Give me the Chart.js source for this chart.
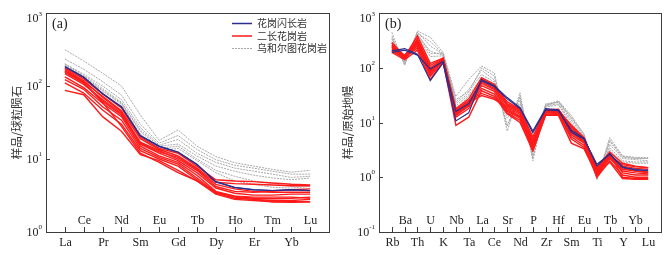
<!DOCTYPE html>
<html>
<head>
<meta charset="utf-8">
<script src="https://cdn.jsdelivr.net/npm/chart.js@4.4.0/dist/chart.umd.min.js"></script>
<style>
  body { margin: 0; background: #fff; width: 672px; height: 255px; overflow: hidden; position: relative; }
  canvas { position: absolute; top: 0; }
  #chartA { left: 0; }
  #chartB { left: 336px; }
</style>
</head>
<body>
<canvas id="chartA" width="336" height="255"></canvas>
<canvas id="chartB" width="336" height="255"></canvas>
<script>
// --- DATA (a): REE / chondrite ---
const reeLabels = ['La', 'Ce', 'Pr', 'Nd', 'Sm', 'Eu', 'Gd', 'Tb', 'Dy', 'Ho', 'Er', 'Tm', 'Yb', 'Lu'];
const reeTicks = [1, 10, 100, 1000];
const reeBlue = [
  [185, 133, 78, 52, 21, 15, 12.5, 8.5, 4.9, 4.1, 3.8, 3.7, 3.8, 3.7],
  [183, 131, 79, 51.5, 20.8, 14.8, 12.4, 8.4, 4.85, 4.05, 3.78, 3.7, 3.78, 3.68]
];
const reeRed = [
  [177, 125, 78, 50, 20, 14, 12, 8, 5.2, 5.0, 4.9, 4.7, 4.5, 4.4],
  [163, 115, 72, 46, 19, 13.5, 11, 7.5, 4.8, 4.6, 4.5, 4.4, 4.3, 4.3],
  [148, 105, 65, 42, 17, 13, 10, 7, 4.2, 3.6, 3.5, 3.6, 3.8, 3.9],
  [170, 118, 70, 44, 16, 12, 9.5, 6.5, 4.0, 3.4, 3.2, 3.2, 3.3, 3.3],
  [133, 95, 58, 38, 15, 11, 9, 6, 3.6, 3.1, 3.0, 3.0, 3.0, 2.9],
  [122, 90, 52, 34, 14, 10.5, 8.5, 5.5, 3.5, 3.0, 2.8, 2.7, 2.7, 2.8],
  [110, 80, 47, 30, 13, 10, 8, 5.2, 3.4, 2.9, 2.8, 2.6, 2.6, 2.6],
  [87, 76, 38, 24, 11.5, 9.5, 7, 5, 3.3, 2.8, 2.7, 2.6, 2.55, 2.6],
  [155, 110, 62, 40, 16.5, 12.5, 10.5, 7.2, 4.5, 3.9, 3.6, 3.5, 3.5, 3.5],
  [160, 112, 60, 28, 12, 9, 6.5, 5.0, 3.5, 3.1, 2.9, 2.85, 2.9, 3.0]
];
const reeGray = [
  [314, 220, 150, 100, 40, 18, 25, 15, 10.8, 8.9, 8.0, 7.2, 6.6, 7.0],
  [234, 170, 115, 75, 30, 16.5, 21, 13.5, 9.8, 8.2, 7.5, 6.8, 6.2, 6.2],
  [202, 145, 100, 65, 27, 15.5, 18.5, 12, 9.0, 7.5, 6.8, 6.2, 5.6, 5.8],
  [200, 140, 92, 60, 25, 15, 16, 11, 8.0, 6.8, 6.0, 5.5, 5.2, 5.5],
  [195, 135, 88, 58, 24, 14, 15, 10, 7.0, 5.8, 5.0, 4.6, 4.2, 4.3],
  [190, 132, 85, 56, 22, 13, 14, 9.5, 6.5, 5.0, 4.5, 4.1, 4.0, 4.2]
];

// --- DATA (b): spider / primitive mantle ---
const spiderLabels = ['Rb', 'Ba', 'Th', 'U', 'K', 'Nb', 'Ta', 'La', 'Ce', 'Sr', 'Nd', 'P', 'Zr', 'Hf', 'Sm', 'Eu', 'Ti', 'Tb', 'Y', 'Yb', 'Lu'];
const spiderTicks = [0.1, 1, 10, 100, 1000];
const spiderBlue = [
  [203, 224, 177, 58, 123, 10.7, 15, 61, 47, 28.5, 18.7, 7.0, 18, 17, 6.6, 4.95, 1.73, 2.63, 1.5, 1.4, 1.3],
  [190, 210, 170, 95, 130, 16, 22, 58, 45, 27, 18, 6.5, 17, 16.5, 7.2, 5.1, 1.6, 2.7, 1.55, 1.35, 1.35]
];
const spiderRed = [
  [290, 160, 380, 120, 150, 18, 27, 66, 50, 22, 17, 4.5, 17, 17.5, 8.5, 5.2, 1.5, 2.9, 1.8, 1.6, 1.5],
  [260, 150, 340, 100, 145, 16, 24, 58, 45, 20, 15, 4.0, 16, 16, 7.5, 4.8, 1.3, 2.6, 1.6, 1.45, 1.4],
  [230, 170, 300, 90, 140, 15, 22, 52, 40, 18, 13, 3.6, 15, 15.5, 7, 4.5, 1.2, 2.5, 1.5, 1.3, 1.25],
  [210, 145, 260, 80, 135, 14, 20, 47, 37, 16, 12, 3.3, 15.5, 15, 6, 4.2, 1.1, 2.2, 1.3, 1.2, 1.15],
  [200, 155, 230, 70, 130, 12.5, 18, 42, 33, 15, 11, 3.0, 14, 14, 5.5, 3.8, 1.0, 2.0, 1.1, 1.0, 1.0],
  [190, 140, 210, 61, 128, 8.9, 12.5, 38, 30, 14.5, 10, 3.1, 13.5, 13.5, 4.2, 3.3, 1.1, 1.9, 0.95, 0.92, 0.92],
  [280, 165, 320, 110, 150, 17, 25, 34, 28, 17, 12.5, 3.8, 16, 16.5, 6.5, 4.4, 1.25, 2.7, 1.0, 0.95, 0.95],
  [250, 150, 280, 95, 140, 15.5, 23, 31, 26.5, 19, 14, 4.2, 17, 17, 8, 5, 1.4, 2.8, 1.2, 1.1, 1.1],
  [220, 160, 250, 85, 138, 13.5, 20, 55, 42, 21, 16, 5.0, 15, 14.5, 5, 3.5, 1.15, 2.3, 1.4, 1.3, 1.2],
  [240, 150, 290, 75, 145, 14.5, 21, 62, 48, 24, 17.5, 5.5, 17.5, 16, 9, 5.3, 1.35, 2.4, 1.7, 1.55, 1.5]
];
const spiderGray = [
  [445, 110, 470, 360, 190, 30, 61, 108, 80, 7.0, 35, 2.0, 21, 25, 13.5, 6, 0.9, 5.3, 2.45, 2.3, 2.3],
  [333, 130, 430, 300, 180, 23.5, 40, 90, 60, 8.5, 30, 2.5, 20, 24, 12, 5.8, 0.95, 4.5, 2.3, 2.2, 2.2],
  [380, 120, 450, 250, 175, 26, 37, 75, 55, 12, 25, 3.0, 22, 23.5, 11, 5.5, 1.0, 4.0, 2.2, 2.1, 2.0],
  [300, 140, 400, 200, 170, 20, 32, 65, 48, 16, 22, 3.5, 20, 22, 10, 5.0, 1.05, 3.5, 2.0, 1.9, 1.9],
  [350, 115, 420, 180, 185, 22, 35, 100, 70, 9, 28, 2.2, 21, 24, 12.5, 6.2, 0.92, 4.8, 2.4, 2.25, 2.2],
  [280, 125, 390, 160, 165, 18, 30, 58, 45, 20, 20, 4.0, 19, 21, 9, 4.8, 1.1, 3.2, 1.9, 1.8, 1.8]
];

const legendNames = ['花岗闪长岩', '二长花岗岩', '乌和尔图花岗岩'];

// --- STYLE ---
const BLUE = '#2a2e8c';
const RED = '#ff1a1a';
const GRAY = '#a8a8a8';
const LATIN = '"Liberation Serif", "Times New Roman", serif';
const CJK = '"Noto Sans CJK SC", sans-serif';

function toPoints(row) {
  return row.map((v, i) => ({ x: i, y: v }));
}

// blue first so it ends up on top (chart.js draws index 0 last)
function buildDatasets(blue, red, gray) {
  const sets = [];
  blue.forEach(r => sets.push({ data: toPoints(r), borderColor: BLUE, borderWidth: 1.2 }));
  red.forEach(r => sets.push({ data: toPoints(r), borderColor: RED, borderWidth: 1.4 }));
  gray.forEach(r => sets.push({ data: toPoints(r), borderColor: GRAY, borderWidth: 1, borderDash: [2, 1] }));
  sets.forEach(s => { s.pointRadius = 0; s.tension = 0; s.fill = false; });
  return sets;
}

// draws box, ticks, tick labels, titles and legend using the chart's scales
const frame = {
  id: 'frame',
  afterDatasetsDraw(chart, args, opts) {
    const ctx = chart.ctx;
    const a = chart.chartArea;
    const xs = chart.scales.x, ys = chart.scales.y;
    ctx.save();
    ctx.strokeStyle = '#3c3c3c';
    ctx.lineWidth = 1;
    ctx.strokeRect(Math.round(a.left) + 0.5, Math.round(a.top) + 0.5, Math.round(a.right - a.left), Math.round(a.bottom - a.top));

    // x ticks (inward) + alternating labels
    ctx.fillStyle = '#222';
    ctx.font = '12px ' + LATIN;
    ctx.textAlign = 'center';
    ctx.textBaseline = 'middle';
    opts.labels.forEach((lab, i) => {
      const px = Math.round(xs.getPixelForValue(i)) + 0.5;
      ctx.beginPath();
      ctx.moveTo(px, a.bottom);
      ctx.lineTo(px, a.bottom - 5);
      ctx.stroke();
      ctx.fillText(lab, px, i % 2 === 0 ? a.bottom + 11 : a.bottom - 11);
    });

    // y ticks (inward) + 10^n labels
    opts.ticks.forEach(t => {
      const py = Math.round(ys.getPixelForValue(t)) + 0.5;
      ctx.beginPath();
      ctx.moveTo(a.left, py);
      ctx.lineTo(a.left + 4, py);
      ctx.stroke();
      const exp = String(Math.round(Math.log10(t)));
      ctx.font = '7px ' + LATIN;
      const ew = ctx.measureText(exp).width;
      ctx.font = '12px ' + LATIN;
      const bw = ctx.measureText('10').width;
      let cy = Math.max(py, a.top + 6);
      const right = a.left - 4;
      ctx.textAlign = 'left';
      ctx.fillText('10', right - ew - bw, cy);
      ctx.font = '7px ' + LATIN;
      ctx.fillText(exp, right - ew, cy - 5);
    });

    // panel tag
    ctx.font = '14px ' + LATIN;
    ctx.textAlign = 'left';
    ctx.fillText(opts.tag, a.left + 6, a.top + 11);

    // y title
    ctx.font = '11.5px ' + CJK;
    ctx.fillStyle = '#333';
    ctx.translate(opts.titleX, (a.top + a.bottom) / 2);
    ctx.rotate(-Math.PI / 2);
    ctx.textAlign = 'center';
    ctx.fillText(opts.title, 0, 0);
    ctx.restore();

    if (opts.legend) {
      ctx.save();
      const cols = [BLUE, RED, GRAY];
      ctx.font = '10px ' + CJK;
      ctx.textBaseline = 'middle';
      ctx.fillStyle = '#333';
      legendNames.forEach((name, k) => {
        const ly = a.top + 10.5 + k * 12.5;
        ctx.strokeStyle = cols[k];
        ctx.lineWidth = k === 2 ? 1 : 1.5;
        ctx.setLineDash(k === 2 ? [2, 1] : []);
        ctx.beginPath();
        ctx.moveTo(a.left + 186, ly);
        ctx.lineTo(a.left + 206, ly);
        ctx.stroke();
        ctx.fillText(name, a.left + 211, ly);
      });
      ctx.restore();
    }
  }
};

function makeChart(id, labels, ticks, yMin, blue, red, gray, frameOpts, pad) {
  return new Chart(document.getElementById(id).getContext('2d'), {
    type: 'line',
    data: { datasets: buildDatasets(blue, red, gray) },
    options: {
      responsive: false,
      animation: false,
      layout: { padding: pad },
      plugins: { legend: { display: false }, tooltip: { enabled: false }, frame: frameOpts },
      scales: {
        x: { type: 'linear', min: -1, max: labels.length, display: false },
        y: { type: 'logarithmic', min: yMin, max: 1000, display: false }
      }
    },
    plugins: [frame]
  });
}

makeChart('chartA', reeLabels, reeTicks, 1, reeBlue, reeRed, reeGray,
  { labels: reeLabels, ticks: reeTicks, tag: '(a)', title: '样品/球粒陨石', titleX: 17, legend: true },
  { left: 46, right: 7, top: 13, bottom: 23 });

makeChart('chartB', spiderLabels, spiderTicks, 0.1, spiderBlue, spiderRed, spiderGray,
  { labels: spiderLabels, ticks: spiderTicks, tag: '(b)', title: '样品/原始地幔', titleX: 12, legend: false },
  { left: 43, right: 11, top: 13, bottom: 23 });
</script>
</body>
</html>
